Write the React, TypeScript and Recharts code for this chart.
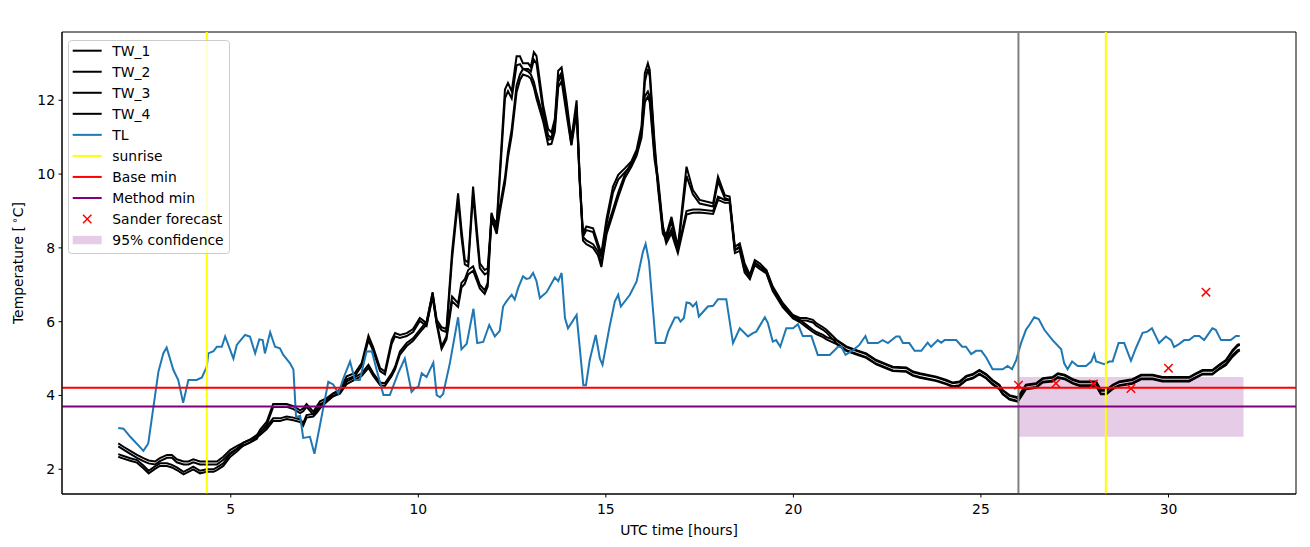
import React from 'react';
import {
  ComposedChart,
  Line,
  Scatter,
  XAxis,
  YAxis,
  ReferenceLine,
  ReferenceArea,
  Legend,
} from 'recharts';

const FONT = '"DejaVu Sans", "Liberation Sans", sans-serif';

// ---------------- data ----------------
const titleText =
  "2016-04-26 02:00:00, location: 909, method: 'elr', base abs error: 0.29, method abs error: 0.20";

const xTicks = [5, 10, 15, 20, 25, 30];
const yTicks = [2, 4, 6, 8, 10, 12];

// TW sensor hours (UTC)
const twHours = [
  2.0, 2.14, 2.32, 2.5, 2.67, 2.81, 2.98, 3.11, 3.3, 3.43,
  3.56, 3.74, 3.87, 4.0, 4.18, 4.36, 4.54, 4.63, 4.8, 4.98,
  5.16, 5.34, 5.51, 5.69, 5.78, 5.96, 6.13, 6.31, 6.49, 6.67,
  6.85, 6.93, 7.02, 7.2, 7.29, 7.38, 7.56, 7.73, 7.91, 8.09,
  8.31, 8.49, 8.67, 8.8, 8.98, 9.11, 9.29, 9.38, 9.51, 9.69,
  9.86, 10.04, 10.22, 10.38, 10.49, 10.62, 10.75, 10.9, 11.06, 11.15,
  11.24, 11.33, 11.46, 11.56, 11.64, 11.77, 11.85, 11.95, 12.09, 12.17,
  12.31, 12.39, 12.49, 12.62, 12.71, 12.79, 12.93, 13.0, 13.08, 13.15,
  13.33, 13.46, 13.55, 13.64, 13.73, 13.82, 13.95, 14.08, 14.22, 14.3,
  14.39, 14.48, 14.66, 14.79, 14.88, 15.02, 15.19, 15.33, 15.51, 15.68,
  15.82, 15.95, 16.04, 16.12, 16.17, 16.3, 16.39, 16.52, 16.61, 16.75,
  16.92, 17.15, 17.32, 17.5, 17.86, 17.99, 18.17, 18.3, 18.44, 18.57,
  18.7, 18.84, 18.97, 19.1, 19.28, 19.45, 19.72, 19.99, 20.17, 20.34,
  20.52, 20.61, 20.79, 20.88, 21.15, 21.41, 21.68, 21.94, 22.21, 22.48,
  22.65, 23.01, 23.19, 23.37, 23.81, 24.08, 24.25, 24.43, 24.61, 24.78,
  24.96, 25.14, 25.31, 25.49, 25.58, 25.76, 25.98, 26.11, 26.2, 26.47,
  26.65, 26.91, 27.05, 27.23, 27.45, 27.63, 28.07, 28.2, 28.34, 28.51,
  28.69, 29.04, 29.27, 29.58, 29.84, 30.55, 30.73, 30.91, 31.17, 31.35,
  31.53, 31.71, 31.84, 31.9,
];

const tw1 = [
  2.7, 2.61, 2.5, 2.39, 2.3, 2.24, 2.21, 2.3, 2.39, 2.39,
  2.27, 2.21, 2.21, 2.27, 2.21, 2.21, 2.21, 2.21, 2.34, 2.52,
  2.63, 2.72, 2.8, 2.9, 3.07, 3.29, 3.77, 3.77, 3.77, 3.71,
  3.6, 3.65, 3.77, 3.56, 3.7, 3.84, 3.93, 4.06, 4.16, 4.52,
  4.61, 4.88, 5.62, 5.3, 4.74, 4.65, 5.5, 5.69, 5.64, 5.69,
  5.8, 6.1, 5.96, 6.8, 6.05, 5.85, 5.8, 7.9, 9.48, 8.5,
  7.67, 7.6, 9.66, 8.5, 7.58, 7.4, 7.45, 8.84, 8.67, 10.02,
  12.29, 12.47, 12.24, 13.19, 13.19, 13.0, 13.0, 12.9, 13.3, 13.2,
  11.85, 11.22, 11.13, 11.5, 12.8, 12.89, 12.0, 10.94, 12.0, 9.93,
  8.4, 8.58, 8.53, 8.12, 7.85, 8.8, 9.66, 9.98, 10.16, 10.34,
  10.66, 11.29, 12.74, 13.0, 12.82, 10.83, 9.74, 8.48, 8.35, 8.84,
  8.03, 10.2, 9.57, 9.3, 9.21, 9.93, 9.43, 9.39, 8.03, 8.12,
  7.58, 7.27, 7.67, 7.58, 7.4, 6.95, 6.5, 6.18, 6.1, 6.1,
  6.05, 5.96, 5.85, 5.78, 5.51, 5.33, 5.23, 5.14, 4.96, 4.85,
  4.78, 4.76, 4.65, 4.6, 4.51, 4.42, 4.35, 4.38, 4.53, 4.58,
  4.69, 4.58, 4.42, 4.29, 4.15, 4.01, 3.95, 4.15, 4.29, 4.33,
  4.47, 4.5, 4.6, 4.56, 4.44, 4.38, 4.38, 4.15, 4.15, 4.29,
  4.38, 4.44, 4.56, 4.56, 4.5, 4.5, 4.6, 4.69, 4.69, 4.83,
  4.96, 5.23, 5.37, 5.4,
];

const tw2 = [
  2.62, 2.53, 2.42, 2.31, 2.22, 2.16, 2.13, 2.22, 2.31, 2.31,
  2.19, 2.13, 2.13, 2.19, 2.13, 2.13, 2.13, 2.13, 2.26, 2.44,
  2.55, 2.64, 2.72, 2.82, 2.99, 3.21, 3.69, 3.69, 3.69, 3.63,
  3.52, 3.57, 3.69, 3.48, 3.62, 3.76, 3.85, 3.98, 4.08, 4.44,
  4.53, 4.8, 5.5, 5.2, 4.66, 4.57, 5.4, 5.6, 5.56, 5.61,
  5.72, 6.02, 5.88, 6.7, 5.97, 5.77, 5.72, 7.7, 9.3, 8.3,
  7.55, 7.5, 9.45, 8.3, 7.45, 7.28, 7.33, 8.7, 8.55, 9.85,
  12.05, 12.25, 12.05, 12.95, 12.98, 12.85, 12.85, 12.78, 13.1, 13.0,
  11.7, 11.05, 10.98, 11.35, 12.6, 12.75, 11.85, 10.8, 11.85, 9.8,
  8.3, 8.48, 8.43, 8.02, 7.75, 8.65, 9.5, 9.85, 10.05, 10.24,
  10.56, 11.15, 12.5, 12.85, 12.65, 10.7, 9.62, 8.38, 8.25, 8.72,
  7.93, 9.95, 9.45, 9.2, 9.12, 9.8, 9.35, 9.3, 7.95, 8.04,
  7.5, 7.2, 7.6, 7.5, 7.33, 6.88, 6.44, 6.12, 6.04, 6.03,
  5.98, 5.89, 5.78, 5.71, 5.41, 5.23, 5.13, 5.04, 4.86, 4.75,
  4.68, 4.66, 4.55, 4.5, 4.41, 4.32, 4.25, 4.28, 4.43, 4.48,
  4.59, 4.48, 4.32, 4.19, 4.05, 3.91, 3.85, 4.05, 4.19, 4.23,
  4.37, 4.4, 4.5, 4.46, 4.34, 4.28, 4.28, 4.05, 4.05, 4.19,
  4.28, 4.34, 4.46, 4.46, 4.4, 4.4, 4.5, 4.59, 4.59, 4.73,
  4.86, 5.1, 5.22, 5.25,
];

const tw3 = [
  2.41, 2.36, 2.3, 2.25, 2.1, 1.96, 2.08, 2.16, 2.16, 2.12,
  2.05, 1.93, 2.0, 2.07, 1.96, 2.0, 2.0, 2.05, 2.16, 2.4,
  2.55, 2.72, 2.8, 2.93, 3.0, 3.16, 3.38, 3.38, 3.43, 3.4,
  3.35, 3.25, 3.47, 3.5, 3.6, 3.72, 3.9, 4.05, 4.12, 4.38,
  4.5, 4.6, 4.83, 4.6, 4.35, 4.33, 4.6, 4.78, 5.19, 5.42,
  5.55, 5.78, 6.0, 6.77, 6.0, 5.33, 5.6, 6.68, 6.5, 7.05,
  7.15, 7.4, 7.5, 7.23, 7.0, 6.85, 7.05, 8.95, 8.5, 9.1,
  9.9, 10.6, 11.22, 12.4, 12.7, 12.85, 12.78, 12.7, 12.5, 12.2,
  11.56, 10.93, 10.95, 11.3, 12.5, 12.67, 11.77, 10.9, 11.8, 10.0,
  8.3, 8.2, 8.1, 7.9, 7.58, 8.5, 9.04, 9.5, 10.0, 10.3,
  10.6, 11.1, 12.11, 12.24, 12.1, 10.5, 9.9, 8.6, 8.21, 8.5,
  7.94, 9.0, 9.04, 9.04, 9.0, 9.39, 9.3, 9.3, 7.94, 8.0,
  7.4, 7.22, 7.6, 7.5, 7.38, 6.9, 6.45, 6.15, 6.05, 5.92,
  5.78, 5.72, 5.64, 5.58, 5.49, 5.31, 5.21, 5.12, 4.94, 4.83,
  4.76, 4.74, 4.63, 4.58, 4.49, 4.4, 4.33, 4.36, 4.51, 4.56,
  4.67, 4.56, 4.4, 4.27, 4.13, 3.99, 3.93, 4.13, 4.27, 4.31,
  4.45, 4.48, 4.58, 4.54, 4.42, 4.36, 4.36, 4.13, 4.13, 4.27,
  4.36, 4.42, 4.54, 4.54, 4.48, 4.48, 4.58, 4.67, 4.67, 4.81,
  4.94, 5.2, 5.34, 5.37,
];

const tw4 = [
  2.34, 2.29, 2.23, 2.18, 2.03, 1.89, 2.01, 2.09, 2.09, 2.05,
  1.98, 1.86, 1.93, 2.0, 1.89, 1.93, 1.93, 1.98, 2.09, 2.33,
  2.48, 2.65, 2.73, 2.86, 2.93, 3.09, 3.31, 3.31, 3.36, 3.33,
  3.28, 3.18, 3.4, 3.43, 3.53, 3.65, 3.83, 3.98, 4.05, 4.31,
  4.43, 4.53, 4.75, 4.53, 4.28, 4.26, 4.53, 4.71, 5.11, 5.34,
  5.48, 5.71, 5.92, 6.68, 5.92, 5.26, 5.52, 6.55, 6.4, 6.92,
  7.03, 7.28, 7.38, 7.12, 6.9, 6.75, 6.95, 8.8, 8.38, 8.95,
  9.75, 10.45, 11.05, 12.22, 12.55, 12.7, 12.65, 12.58, 12.35, 12.05,
  11.42, 10.8, 10.82, 11.15, 12.35, 12.52, 11.63, 10.78, 11.65, 9.88,
  8.2, 8.1, 8.0, 7.8, 7.48, 8.38, 8.92, 9.38, 9.9, 10.2,
  10.5, 10.98, 11.95, 12.1, 11.95, 10.38, 9.78, 8.5, 8.12, 8.4,
  7.86, 8.9, 8.95, 8.96, 8.92, 9.3, 9.22, 9.22, 7.86, 7.92,
  7.33, 7.15, 7.53, 7.43, 7.31, 6.83, 6.39, 6.09, 5.99, 5.86,
  5.72, 5.66, 5.58, 5.52, 5.39, 5.21, 5.11, 5.02, 4.84, 4.73,
  4.66, 4.64, 4.53, 4.48, 4.39, 4.3, 4.23, 4.26, 4.41, 4.46,
  4.57, 4.46, 4.3, 4.17, 4.03, 3.89, 3.83, 4.03, 4.17, 4.21,
  4.35, 4.38, 4.48, 4.44, 4.32, 4.26, 4.26, 4.03, 4.03, 4.17,
  4.26, 4.32, 4.44, 4.44, 4.38, 4.38, 4.48, 4.57, 4.57, 4.71,
  4.82, 5.05, 5.18, 5.22,
];

// TL (air temperature)
const tlHours = [
  2.0, 2.14, 2.32, 2.58, 2.67, 2.8, 3.07, 3.2, 3.29, 3.47,
  3.6, 3.73, 3.87, 4.09, 4.23, 4.36, 4.4, 4.54, 4.63, 4.76,
  4.85, 5.07, 5.16, 5.38, 5.51, 5.65, 5.76, 5.85, 5.91, 6.05,
  6.18, 6.31, 6.4, 6.58, 6.67, 6.74, 6.85, 6.93, 7.11, 7.23,
  7.42, 7.6, 7.73, 7.87, 8.0, 8.18, 8.31, 8.44, 8.62, 8.76,
  8.89, 9.07, 9.24, 9.46, 9.64, 9.82, 9.91, 10.0, 10.09, 10.22,
  10.4, 10.49, 10.58, 10.66, 10.84, 11.06, 11.15, 11.29, 11.47, 11.57,
  11.73, 11.89, 12.04, 12.17, 12.26, 12.35, 12.49, 12.57, 12.66, 12.79,
  12.88, 12.97, 13.06, 13.15, 13.24, 13.42, 13.64, 13.73, 13.82, 13.91,
  13.99, 14.22, 14.4, 14.47, 14.57, 14.73, 14.84, 14.91, 15.1, 15.24,
  15.33, 15.4, 15.64, 15.82, 15.99, 16.06, 16.15, 16.33, 16.57, 16.66,
  16.84, 16.93, 16.99, 17.08, 17.15, 17.24, 17.32, 17.41, 17.48, 17.72,
  17.86, 17.99, 18.21, 18.39, 18.57, 18.79, 18.92, 19.01, 19.24, 19.32,
  19.45, 19.54, 19.65, 19.81, 19.99, 20.12, 20.25, 20.48, 20.65, 20.97,
  21.19, 21.28, 21.39, 21.59, 21.76, 21.92, 21.99, 22.25, 22.38, 22.52,
  22.74, 22.83, 22.92, 23.09, 23.23, 23.41, 23.58, 23.67, 23.85, 23.94,
  24.03, 24.34, 24.5, 24.6, 24.74, 24.87, 25.01, 25.14, 25.31, 25.58,
  25.71, 25.83, 25.94, 26.07, 26.2, 26.29, 26.42, 26.54, 26.69, 26.91,
  27.14, 27.22, 27.31, 27.43, 27.58, 27.8, 27.94, 28.02, 28.07, 28.29,
  28.42, 28.51, 28.67, 28.82, 29.0, 29.13, 29.31, 29.44, 29.56, 29.75,
  29.93, 30.07, 30.15, 30.29, 30.42, 30.55, 30.69, 30.82, 30.95, 31.17,
  31.26, 31.4, 31.66, 31.8, 31.9,
];

const tlValues = [
  3.12, 3.1, 2.88, 2.6, 2.5, 2.7, 4.64, 5.14, 5.3, 4.69,
  4.42, 3.8, 4.42, 4.42, 4.49, 4.78, 5.14, 5.2, 5.32, 5.32,
  5.6, 5.0, 5.37, 5.64, 5.6, 5.14, 5.52, 5.5, 5.14, 5.71,
  5.32, 5.28, 5.1, 4.87, 4.7, 3.42, 3.45, 2.85, 2.88, 2.42,
  3.42, 4.37, 4.3, 4.06, 4.46, 4.92, 4.42, 4.42, 5.19, 5.2,
  4.69, 4.01, 4.01, 4.6, 5.0, 4.1, 4.2, 4.23, 4.6, 4.5,
  4.89, 4.01, 3.95, 4.04, 4.87, 6.12, 5.25, 5.4, 6.35, 5.42,
  5.45, 5.91, 5.6, 5.75, 6.41, 6.55, 6.73, 6.6, 6.91, 7.23,
  7.16, 7.18, 7.32, 7.1, 6.64, 6.8, 7.2, 7.1, 7.32, 6.1,
  5.82, 6.18, 4.28, 4.28, 4.96, 5.64, 5.0, 4.83, 5.87, 6.55,
  6.73, 6.41, 6.73, 7.09, 7.9, 8.11, 7.63, 5.42, 5.42, 5.73,
  6.11, 6.11, 6.0, 6.1, 6.52, 6.5, 6.41, 6.52, 6.14, 6.41,
  6.43, 6.61, 6.61, 5.42, 5.82, 5.6, 5.69, 5.73, 6.12, 5.96,
  5.46, 5.5, 5.32, 5.82, 5.82, 5.93, 5.61, 5.61, 5.1, 5.1,
  5.32, 5.32, 5.1, 5.23, 5.37, 5.61, 5.42, 5.42, 5.5, 5.42,
  5.6, 5.6, 5.42, 5.42, 5.21, 5.21, 5.43, 5.32, 5.5, 5.43,
  5.5, 5.5, 5.32, 5.32, 5.12, 5.21, 5.21, 5.03, 4.71, 4.71,
  4.8, 4.71, 4.96, 5.42, 5.78, 5.91, 6.12, 6.07, 5.78, 5.5,
  5.25, 4.87, 4.71, 4.92, 4.8, 4.8, 4.92, 5.12, 4.92, 4.85,
  4.92, 4.92, 5.42, 5.42, 4.94, 5.28, 5.7, 5.73, 5.82, 5.42,
  5.6, 5.5, 5.31, 5.4, 5.5, 5.5, 5.61, 5.61, 5.5, 5.82,
  5.78, 5.5, 5.5, 5.61, 5.61,
];

const sunriseHours = [4.36, 28.33];
const forecastStartHour = 26.0;
const baseMin = 4.21;
const methodMin = 3.7;

const sanderHours = [26, 27, 28, 29, 30, 31];
const sanderValues = [4.28, 4.33, 4.31, 4.19, 4.74, 6.8];

const confidenceHours = [26, 32];
const confidenceBounds = [2.88, 4.5];

const xDomain = [0.5, 33.4];
const yDomain = [1.33, 13.85];

// ---------------- helpers ----------------
const toPoints = (hs: number[], vs: number[]) =>
  hs.map((h, i) => ({ h, v: vs[i] }));

const tw1Data = toPoints(twHours, tw1);
const tw2Data = toPoints(twHours, tw2);
const tw3Data = toPoints(twHours, tw3);
const tw4Data = toPoints(twHours, tw4);
const tlData = toPoints(tlHours, tlValues);
const sanderData = toPoints(sanderHours, sanderValues);

const XTick = (props: any) => {
  const { x, y, payload } = props;
  return (
    <text x={x} y={y + 16.5} textAnchor="middle" fontFamily={FONT} fontSize={13.9} fill="#000">
      {payload.value}
    </text>
  );
};

const YTick = (props: any) => {
  const { x, y, payload } = props;
  return (
    <text x={x - 3.5} y={y + 5} textAnchor="end" fontFamily={FONT} fontSize={13.9} fill="#000">
      {payload.value}
    </text>
  );
};

const XLabel = (props: any) => {
  const vb = props.viewBox || { x: 62, y: 494, width: 1234, height: 53 };
  return (
    <text x={vb.x + vb.width / 2} y={vb.y + 41} textAnchor="middle" fontFamily={FONT} fontSize={13.9} fill="#000">
      UTC time [hours]
    </text>
  );
};

const YLabel = (props: any) => {
  const vb = props.viewBox || { x: 0, y: 32, width: 62, height: 462 };
  const cx = 23;
  const cy = vb.y + vb.height / 2;
  return (
    <text
      x={cx}
      y={cy}
      transform={`rotate(-90 ${cx} ${cy})`}
      textAnchor="middle"
      fontFamily={FONT}
      fontSize={13.9}
      fill="#000"
    >
      Temperature [{'\u2009'}
      <tspan dy={-5} fontSize={10}>∘</tspan>
      <tspan dy={5}>C]</tspan>
    </text>
  );
};

const TitleLabel = (props: any) => {
  const vb = props.viewBox || { x: 62, y: 32, width: 1234, height: 0 };
  return (
    <text x={vb.x + vb.width / 2} y={vb.y - 8} textAnchor="middle" fontFamily={FONT} fontSize={16.67} fill="#000">
      {titleText}
    </text>
  );
};

const XMarker = (props: any) => {
  const { cx, cy } = props;
  if (cx == null || cy == null) return null;
  const r = 4.2;
  return (
    <g>
      <line x1={cx - r} y1={cy - r} x2={cx + r} y2={cy + r} stroke="red" strokeWidth={1.5} />
      <line x1={cx - r} y1={cy + r} x2={cx + r} y2={cy - r} stroke="red" strokeWidth={1.5} />
    </g>
  );
};

const legendItems = [
  { label: 'TW_1', kind: 'line', color: '#000000' },
  { label: 'TW_2', kind: 'line', color: '#000000' },
  { label: 'TW_3', kind: 'line', color: '#000000' },
  { label: 'TW_4', kind: 'line', color: '#000000' },
  { label: 'TL', kind: 'line', color: '#1f77b4' },
  { label: 'sunrise', kind: 'line', color: '#ffff00' },
  { label: 'Base min', kind: 'line', color: '#ff0000' },
  { label: 'Method min', kind: 'line', color: '#800080' },
  { label: 'Sander forecast', kind: 'x', color: '#ff0000' },
  { label: '95% confidence', kind: 'patch', color: '#800080' },
];

const LegendBox = () => (
  <svg width={162} height={214} style={{ display: 'block', overflow: 'visible' }}>
    <rect x={0.5} y={0.5} width={161} height={213} rx={3} ry={3} fill="#ffffff" fillOpacity={0.8} stroke="#cccccc" strokeWidth={1} />
    {legendItems.map((it, i) => {
      const cy = 10.7 + i * 21.04;
      let handle: React.ReactNode = null;
      if (it.kind === 'line') {
        handle = <line x1={4.7} y1={cy} x2={33.7} y2={cy} stroke={it.color} strokeWidth={2} />;
      } else if (it.kind === 'x') {
        const r = 4.2;
        handle = (
          <g>
            <line x1={19.2 - r} y1={cy - r} x2={19.2 + r} y2={cy + r} stroke={it.color} strokeWidth={1.5} />
            <line x1={19.2 - r} y1={cy + r} x2={19.2 + r} y2={cy - r} stroke={it.color} strokeWidth={1.5} />
          </g>
        );
      } else {
        handle = <rect x={4.7} y={cy - 4.2} width={29} height={8.4} fill={it.color} fillOpacity={0.2} />;
      }
      return (
        <g key={it.label}>
          {handle}
          <text x={44.3} y={cy + 5} fontFamily={FONT} fontSize={13.9} fill="#000">
            {it.label}
          </text>
        </g>
      );
    })}
  </svg>
);

export default function App() {
  return (
    <div style={{ position: 'absolute', left: 0, top: 0, width: 1310, height: 547, background: '#fff' }}>
      <ComposedChart
        width={1310}
        height={547}
        margin={{ top: 32, right: 14, bottom: 0, left: 0 }}
        style={{ fontFamily: FONT }}
      >
        <XAxis
          type="number"
          dataKey="h"
          domain={xDomain}
          allowDataOverflow
          ticks={xTicks}
          orientation="bottom"
          height={53}
          tickSize={3.5}
          tickMargin={0}
          axisLine={{ stroke: '#000', strokeWidth: 1 }}
          tickLine={{ stroke: '#000', strokeWidth: 1 }}
          tick={<XTick />}
          label={<XLabel />}
        />
        <XAxis
          xAxisId="top"
          type="number"
          domain={xDomain}
          allowDataOverflow
          orientation="top"
          height={0}
          tick={false}
          tickLine={false}
          axisLine={false}
          label={<TitleLabel />}
        />
        <YAxis
          type="number"
          domain={yDomain}
          allowDataOverflow
          ticks={yTicks}
          width={62}
          tickSize={3.5}
          tickMargin={0}
          axisLine={{ stroke: '#000', strokeWidth: 1 }}
          tickLine={{ stroke: '#000', strokeWidth: 1 }}
          tick={<YTick />}
          label={<YLabel />}
        />

        <ReferenceArea
          x1={confidenceHours[0]}
          x2={confidenceHours[1]}
          y1={confidenceBounds[0]}
          y2={confidenceBounds[1]}
          fill="#800080"
          fillOpacity={0.2}
          stroke="none"
        />

        <Line data={tw1Data} dataKey="v" type="linear" stroke="#000" strokeWidth={2} dot={false} activeDot={false} isAnimationActive={false} name="TW_1" />
        <Line data={tw2Data} dataKey="v" type="linear" stroke="#000" strokeWidth={2} dot={false} activeDot={false} isAnimationActive={false} name="TW_2" />
        <Line data={tw3Data} dataKey="v" type="linear" stroke="#000" strokeWidth={2} dot={false} activeDot={false} isAnimationActive={false} name="TW_3" />
        <Line data={tw4Data} dataKey="v" type="linear" stroke="#000" strokeWidth={2} dot={false} activeDot={false} isAnimationActive={false} name="TW_4" />
        <Line data={tlData} dataKey="v" type="linear" stroke="#1f77b4" strokeWidth={2} dot={false} activeDot={false} isAnimationActive={false} name="TL" />

        <ReferenceLine x={sunriseHours[0]} stroke="#ffff00" strokeWidth={2} />
        <ReferenceLine x={sunriseHours[1]} stroke="#ffff00" strokeWidth={2} />
        <ReferenceLine x={forecastStartHour} stroke="#808080" strokeWidth={2} />
        <ReferenceLine y={baseMin} stroke="#ff0000" strokeWidth={2} />
        <ReferenceLine y={methodMin} stroke="#800080" strokeWidth={2} />

        <Scatter data={sanderData} dataKey="v" shape={<XMarker />} isAnimationActive={false} name="Sander forecast" />

        <ReferenceArea
          x1={xDomain[0]}
          x2={xDomain[1]}
          y1={yDomain[0]}
          y2={yDomain[1]}
          fill="none"
          stroke="#000"
          strokeWidth={1}
          ifOverflow="visible"
        />

        <Legend
          layout="vertical"
          align="center"
          verticalAlign="middle"
          content={<LegendBox />}
          wrapperStyle={{ left: 68, top: 40, width: 162, height: 214, right: 'auto', bottom: 'auto' }}
        />
      </ComposedChart>
    </div>
  );
}
